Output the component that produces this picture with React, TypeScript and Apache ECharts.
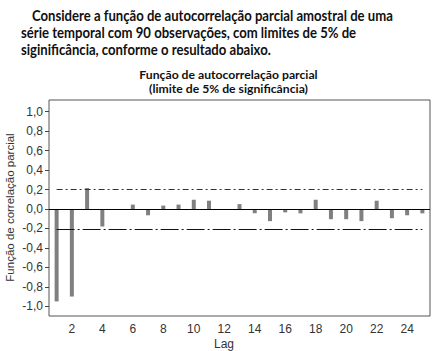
import { useEffect, useRef } from "react";
import * as echarts from "echarts";

const lags = ["1","2","3","4","5","6","7","8","9","10","11","12","13","14","15","16","17","18","19","20","21","22","23","24","25"];
const pacf = [-0.95, -0.9, 0.215, -0.18, 0.0, 0.045, -0.065, 0.035, 0.045, 0.095, 0.085, 0.0, 0.05, -0.045, -0.125, -0.035, -0.045, 0.095, -0.105, -0.105, -0.125, 0.085, -0.095, -0.065, -0.045];
const yTicks = [-1, -0.8, -0.6, -0.4, -0.2, 0, 0.2, 0.4, 0.6, 0.8, 1];
const limit = 0.205;
const headerLines = [
  "Considere a função de autocorrelação parcial amostral de uma",
  "série temporal com 90 observações, com limites de 5% de",
  "siginificância, conforme o resultado abaixo.",
];
const titleLines = ["Função de autocorrelação parcial", "(limite de 5% de significância)"];
const yName = "Função de correlação parcial";
const xName = "Lag";

export default function App() {
  const ref = useRef<HTMLDivElement>(null);
  useEffect(() => {
    if (!ref.current) return;
    const chart = echarts.init(ref.current, null, { renderer: "svg" });
    const headerX = [32, 21, 21];
    const headerY = [15, 32.5, 49.5];
    const titleY = [74, 88];
    chart.setOption({
      animation: false,
      backgroundColor: "#fff",
      grid: { show: true, left: 49, right: 7, top: 100, bottom: 35, borderColor: "#555", borderWidth: 1 },
      xAxis: {
        type: "category",
        data: lags,
        boundaryGap: true,
        axisLine: { show: false },
        axisTick: { show: false },
        splitLine: { show: false },
        axisLabel: {
          interval: (i: number) => i % 2 === 1,
          margin: 7,
          fontSize: 12,
          color: "#333",
          fontFamily: "Liberation Sans",
        },
      },
      yAxis: {
        type: "value",
        min: -1.1,
        max: 1.12,
        splitLine: { show: false },
        axisLine: { show: false },
        axisTick: { show: true, length: 4, customValues: yTicks, lineStyle: { color: "#444" } },
        axisLabel: {
          customValues: yTicks,
          margin: 6,
          fontSize: 12,
          color: "#333",
          fontFamily: "Liberation Sans",
          formatter: (v: number) => v.toFixed(1).replace(".", ","),
        },
      },
      series: [
        {
          type: "bar",
          data: pacf,
          barWidth: 4,
          itemStyle: { color: "#808080" },
          markLine: {
            silent: true,
            symbol: "none",
            label: { show: false },
            animation: false,
            data: [
              { yAxis: 0, lineStyle: { color: "#000", type: "solid", width: 1 } },
              [
                { coord: [lags[0], limit], lineStyle: { color: "#333", type: [6, 3, 2, 3], width: 1 } },
                { coord: [lags[lags.length - 1], limit] },
              ],
              [
                { coord: [lags[0], -limit], lineStyle: { color: "#111", type: [18, 3, 2, 3], width: 1 } },
                { coord: [lags[lags.length - 1], -limit] },
              ],
            ],
          },
        },
      ],
      graphic: [
        ...headerLines.map((t, i) => ({
          type: "text",
          x: headerX[i],
          y: headerY[i],
          scaleX: 0.875,
          style: { text: t, fontFamily: "Lato", fontWeight: "bold", fontSize: 15, fill: "#111", verticalAlign: "middle" },
        })),
        ...titleLines.map((t, i) => ({
          type: "text",
          x: 228.5,
          y: titleY[i],
          style: { text: t, fontFamily: "Lato", fontWeight: "bold", fontSize: 12.2, fill: "#111", align: "center", verticalAlign: "middle" },
        })),
        {
          type: "text",
          x: 9.5,
          y: 207.5,
          rotation: Math.PI / 2,
          style: { text: yName, fontFamily: "Liberation Sans", fontSize: 11.5, fill: "#333", align: "center", verticalAlign: "middle" },
        },
        {
          type: "text",
          x: 224,
          y: 343.5,
          style: { text: xName, fontFamily: "Liberation Sans", fontSize: 12, fill: "#333", align: "center", verticalAlign: "middle" },
        },
      ],
    });
    return () => chart.dispose();
  }, []);
  return <div ref={ref} style={{ position: "fixed", left: 0, top: 0, width: 437, height: 351, background: "#fff" }} />;
}
